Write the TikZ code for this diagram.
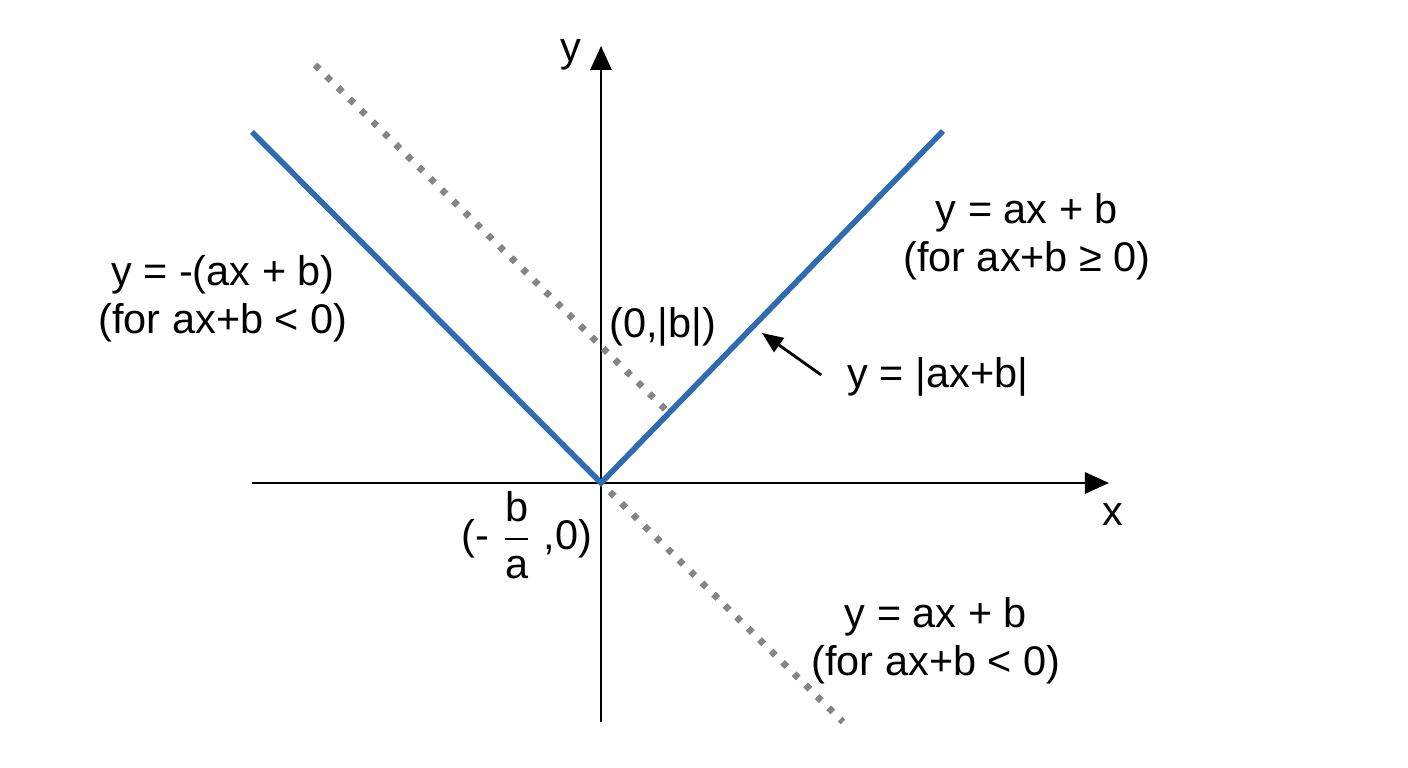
\documentclass[tikz,border=0pt]{standalone}
\usepackage{amsmath}
\usepackage{fontspec}
\setmainfont{Liberation Sans}
\usetikzlibrary{arrows.meta}
\definecolor{absblue}{RGB}{46,108,178}
\colorlet{gdot}{black!48}

\begin{document}
\begin{tikzpicture}[
            every node/.append style={black},
            lbl/.style={align=center,font=\fontsize{11.8}{13.6}\selectfont},
            axisline/.style={line width=0.8pt,-{Triangle[length=0.24cm,width=0.21cm]}},
            dotline/.style={gdot,line width=1.9pt,dash pattern=on 1.7pt off 2.9pt}
        ]
            \useasboundingbox (-6.01,-2.85) rectangle (8.07,4.83);
            % axes
            \draw [axisline] (0,-2.39) -- (0,4.37);
            \draw [axisline] (-3.49,0) -- (5.08,0);
            \node [lbl] (ylab) at (-0.30,4.28) {y};
            \node [lbl] (xlab) at (5.12,-0.32) {x};
            % the line y = ax + b, dotted
            \draw [dotline] (-2.86,4.18) -- (0.67,0.71);
            \draw [dotline] (0.09,-0.09) -- (2.42,-2.39);
            % the graph of |ax+b|
            \draw [absblue,line width=1.6pt] (-3.49,3.51)
                -- (0,0)
                -- (3.42,3.52)
            ;
            % labels
            \node [lbl] (zero) at (-0.74,-0.52)
                {(- $\dfrac{\text{b}}{\text{a}}$ ,0)};
            \node [lbl] (yint) at (0.62,1.56) {(0,|b|)};
            \node [lbl] (left) at (-3.78,1.84) {y = -(ax + b)\\(for ax+b < 0)};
            \node [lbl] (right) at (4.26,2.46) {y = ax + b\\(for ax+b ≥ 0)};
            \node [lbl] (lower) at (3.35,-1.58) {y = ax + b\\(for ax+b < 0)};
            \node [lbl] (absy) at (3.37,1.06) {y = |ax+b|};
            \coordinate (tip) at (1.61,1.50);
            \draw [line width=0.8pt,-{Triangle[length=0.21cm,width=0.17cm]}]
                (absy.west) ++(-0.14,0.02) -- (tip);
        \end{tikzpicture}
\end{document}
